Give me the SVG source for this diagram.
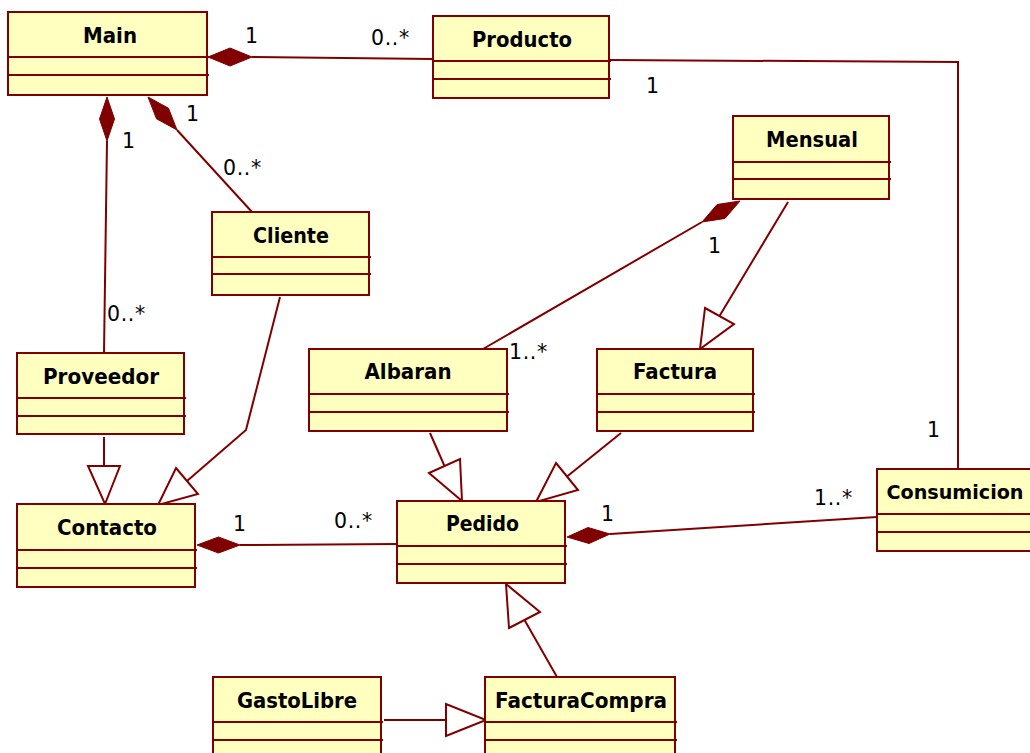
<svg xmlns="http://www.w3.org/2000/svg" width="1030" height="753" viewBox="0 0 1030 753">
  <style>
    .box { fill: #ffffc0; stroke: #800000; stroke-width: 2; }
    .div { stroke: #800000; stroke-width: 2; }
    .name { font-family: "DejaVu Sans", Verdana, sans-serif; font-weight: bold; font-size: 21px; fill: #000; text-anchor: middle; }
    .mult { font-family: "DejaVu Sans", Verdana, sans-serif; font-size: 20.5px; fill: #000; letter-spacing: 0.6px; }
    .line { fill: none; stroke: #800000; stroke-width: 2; }
    .diamond { fill: #800000; stroke: #800000; stroke-width: 1; }
    .tri { fill: #fff; stroke: #800000; stroke-width: 2; stroke-linejoin: miter; }
  </style>
  <rect width="1030" height="753" fill="#fff"/>

  <!-- connectors -->
  <g id="connectors">
    <!-- Main <>- Producto -->
    <line class="line" x1="252" y1="57" x2="433" y2="59"/>
    <polygon class="diamond" points="208,57 230,48 252,57 230,66"/>
    <!-- Producto - Consumicion -->
    <polyline class="line" points="610,60 958,62 958,469"/>
    <!-- Main <>- Proveedor -->
    <line class="line" x1="107" y1="141" x2="104" y2="353"/>
    <polygon class="diamond" points="107,97 114.5,119 107,141 99.5,119"/>
    <!-- Main <>- Cliente -->
    <line class="line" x1="177" y1="130" x2="252" y2="212"/>
    <polygon class="diamond" points="148,97 168.5,108.2 177,130 156.5,118.8"/>
    <!-- Mensual <>- Albaran -->
    <line class="line" x1="702" y1="222" x2="483" y2="349"/>
    <polygon class="diamond" points="740,201 724.9,218.5 702,222 717.1,204.5"/>
    <!-- Mensual -|> Factura -->
    <line class="line" x1="788" y1="202" x2="719.5" y2="316"/>
    <polygon class="tri" points="705,308 734,324 700,349"/>
    <!-- Proveedor -|> Contacto -->
    <line class="line" x1="104" y1="437" x2="104" y2="466"/>
    <polygon class="tri" points="88,466 120,466 105,504"/>
    <!-- Cliente -|> Contacto -->
    <polyline class="line" points="280,297 246,430 187,481"/>
    <polygon class="tri" points="176,468 198,494 158,505"/>
    <!-- Contacto <>- Pedido -->
    <line class="line" x1="240" y1="545" x2="397" y2="544"/>
    <polygon class="diamond" points="197,545 218.5,537 240,545 218.5,553"/>
    <!-- Albaran -|> Pedido -->
    <line class="line" x1="430" y1="433" x2="444.5" y2="466"/>
    <polygon class="tri" points="429,473 460,459 462,501"/>
    <!-- Factura -|> Pedido -->
    <line class="line" x1="621" y1="433" x2="567" y2="476.5"/>
    <polygon class="tri" points="556,463 578,490 536,502"/>
    <!-- Pedido <>- Consumicion -->
    <line class="line" x1="610" y1="534" x2="877" y2="517"/>
    <polygon class="diamond" points="567,537 588,527.5 610,534 589,543.5"/>
    <!-- FacturaCompra -|> Pedido -->
    <line class="line" x1="557" y1="677" x2="524.5" y2="620"/>
    <polygon class="tri" points="509,628 540,612 506,584"/>
    <!-- GastoLibre -|> FacturaCompra -->
    <line class="line" x1="384" y1="720" x2="446" y2="720"/>
    <polygon class="tri" points="446,704 446,736 486,720"/>

    <!-- multiplicities -->
    <text class="mult" x="245" y="43">1</text>
    <text class="mult" x="371" y="45">0..*</text>
    <text class="mult" x="646" y="93">1</text>
    <text class="mult" x="122" y="148">1</text>
    <text class="mult" x="186" y="121">1</text>
    <text class="mult" x="223" y="175">0..*</text>
    <text class="mult" x="107" y="321">0..*</text>
    <text class="mult" x="708" y="253">1</text>
    <text class="mult" x="509" y="359">1..*</text>
    <text class="mult" x="927" y="437">1</text>
    <text class="mult" x="814" y="505">1..*</text>
    <text class="mult" x="601" y="521">1</text>
    <text class="mult" x="233" y="531">1</text>
    <text class="mult" x="334" y="528">0..*</text>
  </g>

  <g id="main">
    <rect class="box" x="8" y="12" width="199" height="83"/>
    <line class="div" x1="8" y1="57" x2="209" y2="57"/>
    <line class="div" x1="8" y1="75" x2="209" y2="75"/>
    <text class="name" x="110" y="43" textLength="54" lengthAdjust="spacingAndGlyphs">Main</text>
  </g>
  <g id="producto">
    <rect class="box" x="433" y="16" width="176" height="82"/>
    <line class="div" x1="433" y1="61" x2="611" y2="61"/>
    <line class="div" x1="433" y1="79" x2="611" y2="79"/>
    <text class="name" x="522" y="47" textLength="100" lengthAdjust="spacingAndGlyphs">Producto</text>
  </g>
  <g id="mensual">
    <rect class="box" x="733" y="116" width="156" height="83"/>
    <line class="div" x1="733" y1="162" x2="891" y2="162"/>
    <line class="div" x1="733" y1="179" x2="891" y2="179"/>
    <text class="name" x="812" y="147" textLength="92" lengthAdjust="spacingAndGlyphs">Mensual</text>
  </g>
  <g id="cliente">
    <rect class="box" x="212" y="212" width="157" height="83"/>
    <line class="div" x1="212" y1="257" x2="371" y2="257"/>
    <line class="div" x1="212" y1="274" x2="371" y2="274"/>
    <text class="name" x="291" y="243" textLength="76" lengthAdjust="spacingAndGlyphs">Cliente</text>
  </g>
  <g id="albaran">
    <rect class="box" x="309" y="349" width="198" height="82"/>
    <line class="div" x1="309" y1="394" x2="509" y2="394"/>
    <line class="div" x1="309" y1="412" x2="509" y2="412"/>
    <text class="name" x="408" y="379" textLength="87" lengthAdjust="spacingAndGlyphs">Albaran</text>
  </g>
  <g id="factura">
    <rect class="box" x="597" y="349" width="156" height="82"/>
    <line class="div" x1="597" y1="394" x2="755" y2="394"/>
    <line class="div" x1="597" y1="412" x2="755" y2="412"/>
    <text class="name" x="675" y="379" textLength="84" lengthAdjust="spacingAndGlyphs">Factura</text>
  </g>
  <g id="proveedor">
    <rect class="box" x="17" y="353" width="167" height="81"/>
    <line class="div" x1="17" y1="398" x2="186" y2="398"/>
    <line class="div" x1="17" y1="416" x2="186" y2="416"/>
    <text class="name" x="101" y="384" textLength="116" lengthAdjust="spacingAndGlyphs">Proveedor</text>
  </g>
  <g id="contacto">
    <rect class="box" x="17" y="504" width="178" height="83"/>
    <line class="div" x1="17" y1="550" x2="197" y2="550"/>
    <line class="div" x1="17" y1="568" x2="197" y2="568"/>
    <text class="name" x="107" y="535" textLength="100" lengthAdjust="spacingAndGlyphs">Contacto</text>
  </g>
  <g id="pedido">
    <rect class="box" x="397" y="501" width="168" height="82"/>
    <line class="div" x1="397" y1="546" x2="567" y2="546"/>
    <line class="div" x1="397" y1="564" x2="567" y2="564"/>
    <text class="name" x="482.5" y="531" textLength="73" lengthAdjust="spacingAndGlyphs">Pedido</text>
  </g>
  <g id="consumicion">
    <rect class="box" x="877" y="469" width="160" height="82"/>
    <line class="div" x1="877" y1="514" x2="1039" y2="514"/>
    <line class="div" x1="877" y1="532" x2="1039" y2="532"/>
    <text class="name" x="955" y="499" style="font-size:19.5px" textLength="137" lengthAdjust="spacingAndGlyphs">Consumicion</text>
  </g>
  <g id="gastolibre">
    <rect class="box" x="213" y="677" width="168" height="90"/>
    <line class="div" x1="213" y1="722" x2="383" y2="722"/>
    <line class="div" x1="213" y1="740" x2="383" y2="740"/>
    <text class="name" x="297" y="708" textLength="120" lengthAdjust="spacingAndGlyphs">GastoLibre</text>
  </g>
  <g id="facturacompra">
    <rect class="box" x="485" y="677" width="190" height="90"/>
    <line class="div" x1="485" y1="722" x2="677" y2="722"/>
    <line class="div" x1="485" y1="740" x2="677" y2="740"/>
    <text class="name" x="581" y="708" textLength="172" lengthAdjust="spacingAndGlyphs">FacturaCompra</text>
  </g>
</svg>
